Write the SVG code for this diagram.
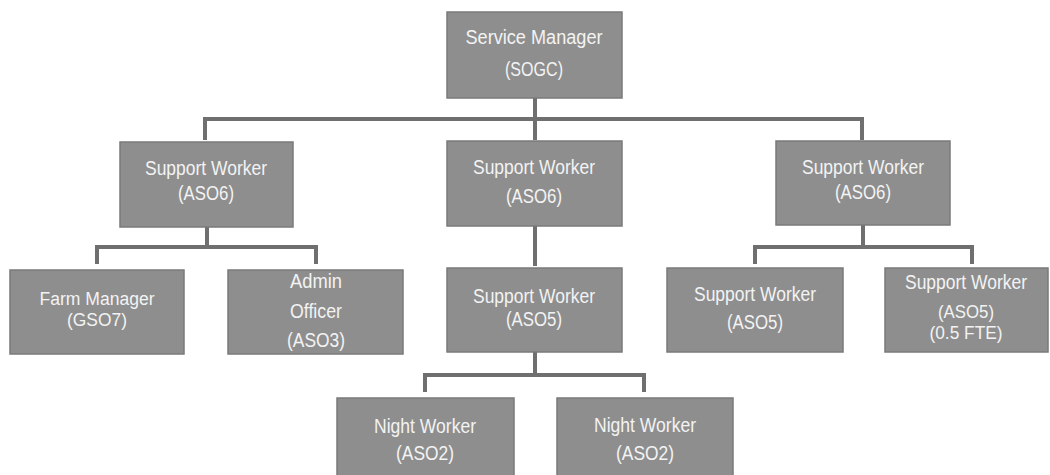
<svg xmlns="http://www.w3.org/2000/svg" width="1050" height="475" viewBox="0 0 1050 475">
<style>
.box{fill:#8e8e8e;stroke:#7a7a7a;stroke-width:1.5}
.t{font-family:"Liberation Sans",Arial,sans-serif;font-size:20px;fill:#f3f3f3;text-anchor:middle}
.s{font-size:18px}
.c{fill:none;stroke:#6f6f6f;stroke-width:4}
</style>
<rect width="1050" height="475" fill="#ffffff"/>
<g id="connectors">
<path class="c" d="M535 98V119M205 140V119H862V140M535 119V140"/>
<path class="c" d="M207 227V247M97 264V247H316V264"/>
<path class="c" d="M535 226V266"/>
<path class="c" d="M863 225V247M755 264V247H972V264"/>
<path class="c" d="M535 352V375M425 392V375H644V392"/>
</g>
<g id="n-service-manager">
<rect class="box" x="447" y="12" width="175" height="86"/>
<text class="t" x="534" y="44" textLength="137" lengthAdjust="spacingAndGlyphs">Service Manager</text>
<text class="t" x="534" y="76" textLength="58" lengthAdjust="spacingAndGlyphs">(SOGC)</text>
</g>
<g id="n-sw-left">
<rect class="box" x="120" y="142" width="173" height="85"/>
<text class="t" x="206" y="175" textLength="122" lengthAdjust="spacingAndGlyphs">Support Worker</text>
<text class="t" x="206" y="200" textLength="56" lengthAdjust="spacingAndGlyphs">(ASO6)</text>
</g>
<g id="n-sw-mid">
<rect class="box" x="447" y="141" width="175" height="85"/>
<text class="t" x="534" y="174" textLength="122" lengthAdjust="spacingAndGlyphs">Support Worker</text>
<text class="t" x="534" y="203" textLength="56" lengthAdjust="spacingAndGlyphs">(ASO6)</text>
</g>
<g id="n-sw-right">
<rect class="box" x="776" y="141" width="174" height="84"/>
<text class="t" x="863" y="174" textLength="122" lengthAdjust="spacingAndGlyphs">Support Worker</text>
<text class="t" x="863" y="199" textLength="56" lengthAdjust="spacingAndGlyphs">(ASO6)</text>
</g>
<g id="n-farm-manager">
<rect class="box" x="10" y="270" width="174" height="84"/>
<text class="t s" x="97" y="305" textLength="115" lengthAdjust="spacingAndGlyphs">Farm Manager</text>
<text class="t s" x="97" y="326" textLength="60" lengthAdjust="spacingAndGlyphs">(GSO7)</text>
</g>
<g id="n-admin-officer">
<rect class="box" x="228" y="270" width="175" height="84"/>
<text class="t" x="316" y="288" textLength="52" lengthAdjust="spacingAndGlyphs">Admin</text>
<text class="t" x="316" y="318" textLength="52" lengthAdjust="spacingAndGlyphs">Officer</text>
<text class="t" x="316" y="347" textLength="58" lengthAdjust="spacingAndGlyphs">(ASO3)</text>
</g>
<g id="n-sw-aso5-mid">
<rect class="box" x="447" y="268" width="175" height="84"/>
<text class="t" x="534" y="303" textLength="122" lengthAdjust="spacingAndGlyphs">Support Worker</text>
<text class="t" x="534" y="326" textLength="56" lengthAdjust="spacingAndGlyphs">(ASO5)</text>
</g>
<g id="n-sw-aso5-right">
<rect class="box" x="667" y="268" width="176" height="84"/>
<text class="t" x="755" y="301" textLength="122" lengthAdjust="spacingAndGlyphs">Support Worker</text>
<text class="t" x="755" y="329" textLength="56" lengthAdjust="spacingAndGlyphs">(ASO5)</text>
</g>
<g id="n-sw-aso5-fte">
<rect class="box" x="885" y="268" width="163" height="84"/>
<text class="t" x="966" y="289" textLength="122" lengthAdjust="spacingAndGlyphs">Support Worker</text>
<text class="t s" x="966" y="318" textLength="56" lengthAdjust="spacingAndGlyphs">(ASO5)</text>
<text class="t s" x="966" y="339" textLength="73" lengthAdjust="spacingAndGlyphs">(0.5 FTE)</text>
</g>
<g id="n-night-1">
<rect class="box" x="337" y="398" width="177" height="80"/>
<text class="t" x="425" y="433" textLength="102" lengthAdjust="spacingAndGlyphs">Night Worker</text>
<text class="t" x="425" y="460" textLength="58" lengthAdjust="spacingAndGlyphs">(ASO2)</text>
</g>
<g id="n-night-2">
<rect class="box" x="557" y="398" width="176" height="80"/>
<text class="t" x="645" y="432" textLength="102" lengthAdjust="spacingAndGlyphs">Night Worker</text>
<text class="t" x="645" y="460" textLength="58" lengthAdjust="spacingAndGlyphs">(ASO2)</text>
</g>
</svg>
